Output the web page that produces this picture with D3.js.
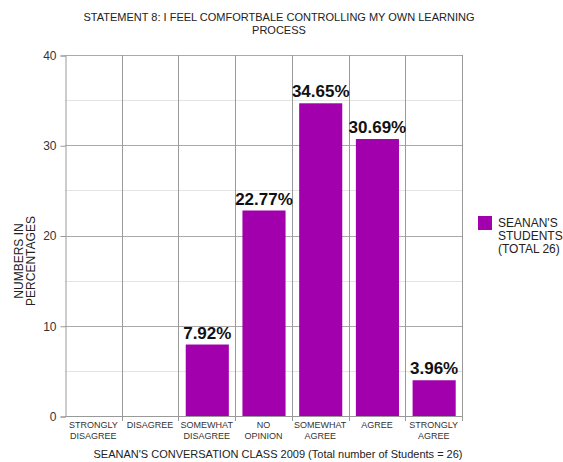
<!DOCTYPE html>
<html>
<head>
<meta charset="utf-8">
<script src="https://cdn.jsdelivr.net/npm/d3@7"></script>
<style>
  html, body { margin: 0; padding: 0; background: #fff; }
  svg { display: block; font-family: "Liberation Sans", Arial, sans-serif; }
</style>
</head>
<body>
<svg id="chart" width="563" height="462"></svg>
<script>
// Survey responses for statement 8 (percent of students)
const categories = [
  ["STRONGLY", "DISAGREE"],
  ["DISAGREE"],
  ["SOMEWHAT", "DISAGREE"],
  ["NO", "OPINION"],
  ["SOMEWHAT", "AGREE"],
  ["AGREE"],
  ["STRONGLY", "AGREE"]
];
const values = [0, 0, 7.92, 22.77, 34.65, 30.69, 3.96];
const valueLabels = [null, null, "7.92%", "22.77%", "34.65%", "30.69%", "3.96%"];
const yMajorTicks = [0, 10, 20, 30, 40];
const yMinorTicks = [5, 15, 25, 35];
const titleLines = ["STATEMENT 8: I FEEL COMFORTBALE CONTROLLING MY OWN LEARNING", "PROCESS"];
const xTitle = "SEANAN'S CONVERSATION CLASS 2009 (Total number of Students = 26)";
const yTitleLines = ["NUMBERS IN", "PERCENTAGES"];
const legendLines = ["SEANAN'S", "STUDENTS", "(TOTAL 26)"];

const barColor = "#a200ac";
const svg = d3.select("#chart");
const plot = { left: 65, right: 462, top: 55, bottom: 416 };

const x = d3.scaleBand()
  .domain(d3.range(categories.length))
  .range([plot.left, plot.right])
  .paddingInner(0)
  .paddingOuter(0);
const y = d3.scaleLinear().domain([0, 40]).range([plot.bottom, plot.top]);

const rows = values.map((v, i) => ({ i, v, label: valueLabels[i] }));

// Minor gridlines
svg.append("g").selectAll("line").data(yMinorTicks).join("line")
  .attr("x1", plot.left).attr("x2", plot.right)
  .attr("y1", d => Math.round(y(d)) + 0.5).attr("y2", d => Math.round(y(d)) + 0.5)
  .attr("stroke", "#e4e4e4").attr("stroke-width", 1);

// Major gridlines
svg.append("g").selectAll("line").data(yMajorTicks.filter(d => d > 0)).join("line")
  .attr("x1", plot.left).attr("x2", plot.right)
  .attr("y1", d => Math.round(y(d)) + 0.5).attr("y2", d => Math.round(y(d)) + 0.5)
  .attr("stroke", "#aaaaaa").attr("stroke-width", 1);

// Category dividers, extending slightly below the baseline
const dividers = d3.range(1, categories.length + 1).map(i => i < categories.length ? x(i) : plot.right);
svg.append("g").selectAll("line").data(dividers).join("line")
  .attr("x1", d => Math.round(d) + 0.5).attr("x2", d => Math.round(d) + 0.5)
  .attr("y1", plot.top).attr("y2", plot.bottom + 5)
  .attr("stroke", "#999").attr("stroke-width", 1);

// Bars
const barW = x.bandwidth() * 0.76;
svg.append("g").selectAll("rect").data(rows).join("rect")
  .attr("x", d => x(d.i) + (x.bandwidth() - barW) / 2 + 0.5)
  .attr("width", barW)
  .attr("y", d => y(d.v))
  .attr("height", d => y(0) - y(d.v))
  .attr("fill", barColor);

// Value labels
svg.append("g").selectAll("text").data(rows.filter(d => d.label !== null)).join("text")
  .attr("x", d => x(d.i) + x.bandwidth() / 2 + 0.5)
  .attr("y", d => y(d.v) - 6)
  .attr("text-anchor", "middle")
  .attr("font-size", 17).attr("font-weight", "bold").attr("fill", "#111")
  .text(d => d.label);

// Y axis
const yAxis = d3.axisLeft(y).tickValues(yMajorTicks).tickSize(5).tickPadding(4);
const yg = svg.append("g").attr("transform", `translate(${plot.left + 0.5},0.5)`).call(yAxis);
yg.select(".domain").attr("stroke", "#999");
yg.selectAll(".tick line").attr("stroke", "#999");
yg.selectAll(".tick text").attr("font-size", 12).attr("fill", "#333")
  .attr("font-family", "Liberation Sans, Arial, sans-serif");

// Baseline
svg.append("line")
  .attr("x1", plot.left).attr("x2", plot.right)
  .attr("y1", plot.bottom + 0.5).attr("y2", plot.bottom + 0.5)
  .attr("stroke", "#999");

// Category labels
const catG = svg.append("g");
categories.forEach((lines, i) => {
  const cx = x(i) + x.bandwidth() / 2;
  const t = catG.append("text")
    .attr("x", cx)
    .attr("y", 428)
    .attr("text-anchor", "middle")
    .attr("font-size", 9).attr("fill", "#333");
  lines.forEach((ln, j) => {
    t.append("tspan").attr("x", cx).attr("dy", j === 0 ? 0 : 10.5).text(ln);
  });
});

// Title
const title = svg.append("text").attr("text-anchor", "middle")
  .attr("font-size", 11).attr("fill", "#222");
titleLines.forEach((ln, j) => {
  title.append("tspan").attr("x", 279).attr("y", 21 + j * 13).text(ln);
});

// X axis title
svg.append("text")
  .attr("x", 278).attr("y", 458)
  .attr("text-anchor", "middle")
  .attr("font-size", 11).attr("fill", "#222")
  .text(xTitle);

// Y axis title
const yt = svg.append("text")
  .attr("transform", "translate(0,261) rotate(-90)")
  .attr("text-anchor", "middle")
  .attr("font-size", 12).attr("fill", "#222");
yTitleLines.forEach((ln, j) => {
  yt.append("tspan").attr("x", 0).attr("y", 23 + j * 11.5).text(ln);
});

// Legend
svg.append("rect")
  .attr("x", 478).attr("y", 216).attr("width", 14).attr("height", 14)
  .attr("fill", barColor);
const lg = svg.append("text").attr("font-size", 12).attr("fill", "#222");
legendLines.forEach((ln, j) => {
  lg.append("tspan").attr("x", 498).attr("y", 227 + j * 13).text(ln);
});
</script>
</body>
</html>
